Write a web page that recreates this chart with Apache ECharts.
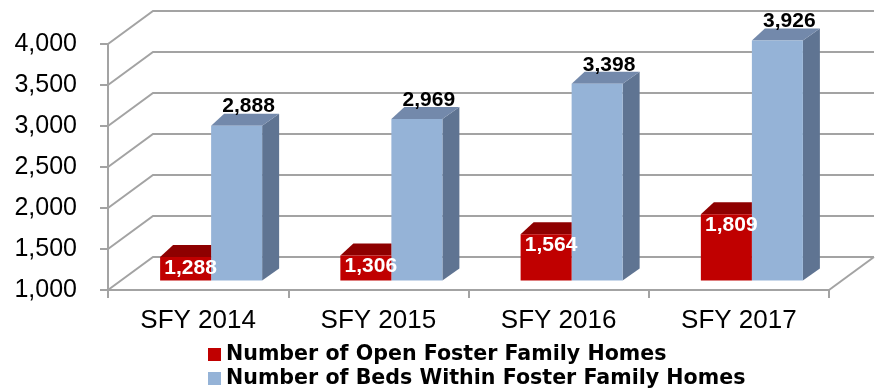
<!DOCTYPE html>
<html>
<head>
<meta charset="utf-8">
<script src="https://cdn.jsdelivr.net/npm/echarts@6/dist/echarts.min.js"></script>
<style>
  html, body { margin: 0; padding: 0; background: #fff; }
  #chart { width: 880px; height: 390px; }
</style>
</head>
<body>
<div id="chart"></div>
<script>
// Foster family homes vs. beds, by state fiscal year
const categories = ['SFY 2014', 'SFY 2015', 'SFY 2016', 'SFY 2017'];
const openHomes = [1288, 1306, 1564, 1809];
const bedsInHomes = [2888, 2969, 3398, 3926];
const seriesNames = ['Number of Open Foster Family Homes', 'Number of Beds Within Foster Family Homes'];
const yTicks = [1000, 1500, 2000, 2500, 3000, 3500, 4000];

const Y_MIN = 1000, Y_MAX = 4000, Y_STEP = 500;

// pseudo-3D geometry (pixels)
const WALL_DX = 45, WALL_DY = -33;      // depth of the back wall / floor
const PLANE_DX = 13, PLANE_DY = -9.5;   // where the bar fronts sit inside the box
const BACK_L = 13, BACK_R = 17, BACK_DY = -12; // bar depth (slight perspective)
const BAR_RATIO = 0.283;                // bar width as share of a category band
const GRID_COLOR = '#A3A3A3';

const fmt = v => v.toLocaleString('en-US');

function wallsRenderer(params, api) {
  const cs = params.coordSys;
  const left = cs.x, right = cs.x + cs.width;
  const children = [];
  yTicks.forEach(v => {
    const y = api.coord([0, v])[1];
    children.push({
      type: 'polyline',
      shape: { points: [[left, y], [left + WALL_DX, y + WALL_DY], [right + WALL_DX, y + WALL_DY]] },
      style: { stroke: GRID_COLOR, lineWidth: 2, fill: null }
    });
  });
  const yb = api.coord([0, Y_MIN])[1];
  children.push({
    type: 'line',
    shape: { x1: right, y1: yb, x2: right + WALL_DX, y2: yb + WALL_DY },
    style: { stroke: GRID_COLOR, lineWidth: 2 }
  });
  return { type: 'group', children: children };
}

function barRenderer(side, colors, labelColor) {
  return function (params, api) {
    const cat = api.value(0), val = api.value(1);
    const top = api.coord([cat, val]);
    const base = api.coord([cat, Y_MIN]);
    const bw = api.size([1, 0])[0] * BAR_RATIO;
    const cx = top[0] + PLANE_DX;
    const x0 = side < 0 ? cx - bw : cx;
    const x1 = x0 + bw;
    const yt = top[1] + PLANE_DY;
    const yb = base[1] + PLANE_DY;
    const children = [];
    if (side < 0) {
      // left bar: its right side is hidden by the neighbouring bar
      children.push({
        type: 'polygon',
        shape: { points: [[x0, yt], [x1, yt], [x1, yt + BACK_DY], [x0 + BACK_L, yt + BACK_DY]] },
        style: { fill: colors.top }
      });
      children.push({
        type: 'rect',
        shape: { x: x0, y: yt, width: bw, height: yb - yt },
        style: { fill: colors.front }
      });
      children.push({
        type: 'text',
        style: {
          text: fmt(val), x: (x0 + x1) / 2 + 5, y: yt + 11,
          fill: labelColor, font: 'bold 21px "Liberation Sans", Arial, sans-serif',
          align: 'center', verticalAlign: 'middle'
        }
      });
    } else {
      children.push({
        type: 'polygon',
        shape: { points: [[x1, yt], [x1 + BACK_R, yt + BACK_DY], [x1 + BACK_R, yb + BACK_DY], [x1, yb]] },
        style: { fill: colors.side }
      });
      children.push({
        type: 'polygon',
        shape: { points: [[x0, yt], [x1, yt], [x1 + BACK_R, yt + BACK_DY], [x0 + BACK_L, yt + BACK_DY]] },
        style: { fill: colors.top }
      });
      children.push({
        type: 'rect',
        shape: { x: x0, y: yt, width: bw, height: yb - yt },
        style: { fill: colors.front }
      });
      children.push({
        type: 'text',
        style: {
          text: fmt(val), x: (x0 + x1) / 2 + 12, y: yt + BACK_DY - 7,
          fill: labelColor, font: 'bold 21px "Liberation Sans", Arial, sans-serif',
          align: 'center', verticalAlign: 'middle'
        }
      });
    }
    return { type: 'group', children: children };
  };
}

const chart = echarts.init(document.getElementById('chart'), null, { renderer: 'canvas' });

chart.setOption({
  animation: false,
  backgroundColor: '#ffffff',
  grid: { left: 108, right: 51, top: 44, bottom: 100, containLabel: false },
  legend: {
    data: seriesNames,
    orient: 'vertical',
    left: 208,
    top: 344,
    width: 640,
    height: 60,
    padding: 0,
    itemWidth: 13,
    itemHeight: 13,
    itemGap: 3,
    icon: 'rect',
    selectedMode: false,
    textStyle: {
      fontFamily: '"DejaVu Sans", sans-serif',
      fontWeight: 'bold',
      fontSize: 20.6,
      lineHeight: 20,
      color: '#000'
    }
  },
  xAxis: {
    type: 'category',
    data: categories,
    boundaryGap: true,
    axisLine: { show: true, lineStyle: { color: GRID_COLOR, width: 2 } },
    axisTick: { show: true, length: 8, lineStyle: { color: GRID_COLOR, width: 2 } },
    axisLabel: {
      margin: 18,
      color: '#000',
      fontSize: 26,
      fontFamily: '"Liberation Sans", Arial, sans-serif'
    },
    splitLine: { show: false }
  },
  yAxis: {
    type: 'value',
    min: Y_MIN,
    max: Y_MAX,
    interval: Y_STEP,
    axisLine: { show: true, lineStyle: { color: GRID_COLOR, width: 2 } },
    axisTick: { show: true, length: 8, lineStyle: { color: GRID_COLOR, width: 2 } },
    axisLabel: {
      margin: 31,
      color: '#000',
      fontSize: 25,
      fontFamily: '"Liberation Sans", Arial, sans-serif',
      formatter: v => fmt(v)
    },
    splitLine: { show: false }
  },
  series: [
    {
      name: 'walls',
      type: 'custom',
      silent: true,
      z: 1,
      renderItem: wallsRenderer,
      data: [[0, Y_MIN]],
      encode: { x: 0, y: 1 }
    },
    {
      name: seriesNames[1],
      type: 'custom',
      z: 2,
      itemStyle: { color: '#95B3D7' },
      renderItem: barRenderer(1, { front: '#95B3D7', top: '#7389AB', side: '#5F7492' }, '#000'),
      data: bedsInHomes.map((v, i) => [i, v]),
      encode: { x: 0, y: 1 }
    },
    {
      name: seriesNames[0],
      type: 'custom',
      z: 3,
      itemStyle: { color: '#C00000' },
      renderItem: barRenderer(-1, { front: '#C00000', top: '#8E0000' }, '#fff'),
      data: openHomes.map((v, i) => [i, v]),
      encode: { x: 0, y: 1 }
    }
  ]
});
</script>
</body>
</html>
